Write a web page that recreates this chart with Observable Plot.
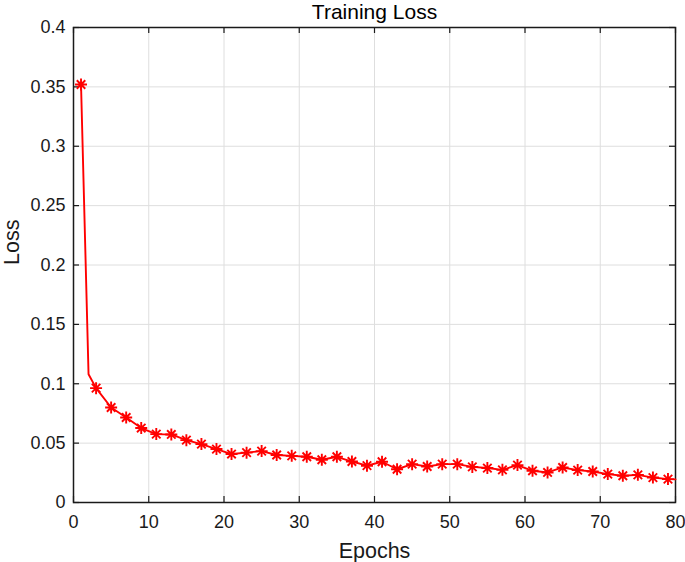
<!DOCTYPE html>
<html>
<head>
<meta charset="utf-8">
<script src="https://cdn.jsdelivr.net/npm/d3@7"></script>
<script src="https://cdn.jsdelivr.net/npm/@observablehq/plot@0.6"></script>
<style>
  html, body { margin: 0; padding: 0; background: #fff; }
</style>
</head>
<body>
<div id="chart"></div>
<script>
// ---- data ----
const title = "Training Loss";
const xLabel = "Epochs";
const yLabel = "Loss";
const xTicks = [0, 10, 20, 30, 40, 50, 60, 70, 80];
const yTicks = [0, 0.05, 0.1, 0.15, 0.2, 0.25, 0.3, 0.35, 0.4];
const yTickLabels = ["0", "0.05", "0.1", "0.15", "0.2", "0.25", "0.3", "0.35", "0.4"];
const markerEpochs = [1, 3, 5, 7, 9, 11, 13, 15, 17, 19, 21, 23, 25, 27, 29, 31, 33, 35, 37, 39,
                      41, 43, 45, 47, 49, 51, 53, 55, 57, 59, 61, 63, 65, 67, 69, 71, 73, 75, 77, 79];
const markerLoss = [0.352, 0.0963, 0.080, 0.0716, 0.0627, 0.0576, 0.0573, 0.0525, 0.0492, 0.045,
                    0.0408, 0.042, 0.0433, 0.040, 0.0393, 0.0385, 0.036, 0.0385, 0.0345, 0.031,
                    0.0343, 0.028, 0.0323, 0.0303, 0.0323, 0.0323, 0.030, 0.029, 0.0275, 0.0315,
                    0.0267, 0.0253, 0.0295, 0.0273, 0.0261, 0.0239, 0.0225, 0.0233, 0.021, 0.0197];
const extraEpochs = [2, 80];
const extraLoss = [0.108, 0.0195];

// ---- tables ----
const markers = markerEpochs.map((e, i) => ({epoch: e, loss: markerLoss[i]}));
const linePts = markers.concat(extraEpochs.map((e, i) => ({epoch: e, loss: extraLoss[i]})))
  .sort((a, b) => a.epoch - b.epoch);

// ---- layout ----
const W = 685, H = 562;
const mL = 73, mR = 10, mT = 27, mB = 60;
const fw = W - mL - mR, fh = H - mT - mB;
const tickLen = 6;
const red = "#ff0000";
const font = "'Liberation Sans', Arial, Helvetica, sans-serif";

// MATLAB-like asterisk: 4 crossing strokes
const asterisk8 = {
  draw(context, size) {
    const r = Math.sqrt(size / Math.PI);
    const d = r * Math.SQRT1_2;
    context.moveTo(-r, 0); context.lineTo(r, 0);
    context.moveTo(0, -r); context.lineTo(0, r);
    context.moveTo(-d, -d); context.lineTo(d, d);
    context.moveTo(-d, d); context.lineTo(d, -d);
  }
};

const chart = Plot.plot({
  width: W,
  height: H,
  marginLeft: mL,
  marginRight: mR,
  marginTop: mT,
  marginBottom: mB,
  style: {fontFamily: font, fontSize: "18px", color: "#1a1a1a", background: "#fff"},
  x: {domain: [0, 80], axis: null},
  y: {domain: [0, 0.4], axis: null},
  marks: [
    Plot.gridX(xTicks, {stroke: "#dedede", strokeOpacity: 1, strokeWidth: 1}),
    Plot.gridY(yTicks, {stroke: "#dedede", strokeOpacity: 1, strokeWidth: 1}),
    Plot.axisX(xTicks, {anchor: "bottom", tickSize: 0, tickPadding: 13, label: null, fill: "#1a1a1a"}),
    Plot.axisY(yTicks, {anchor: "left", tickSize: 0, tickPadding: 8, label: null, fill: "#1a1a1a",
      tickFormat: (d) => yTickLabels[yTicks.indexOf(d)]}),
    // inward ticks on all four sides
    Plot.ruleX(xTicks, {x: d => d, insetTop: fh - tickLen, stroke: "#1a1a1a", strokeWidth: 1.2}),
    Plot.ruleX(xTicks, {x: d => d, insetBottom: fh - tickLen, stroke: "#1a1a1a", strokeWidth: 1.2}),
    Plot.ruleY(yTicks, {y: d => d, insetRight: fw - tickLen, stroke: "#1a1a1a", strokeWidth: 1.2}),
    Plot.ruleY(yTicks, {y: d => d, insetLeft: fw - tickLen, stroke: "#1a1a1a", strokeWidth: 1.2}),
    Plot.frame({stroke: "#1a1a1a", strokeWidth: 1.5}),
    Plot.line(linePts, {x: "epoch", y: "loss", stroke: red, strokeWidth: 1.9}),
    Plot.dot(markers, {x: "epoch", y: "loss", symbol: asterisk8, r: 6, stroke: red, strokeWidth: 1.9, fill: "none"}),
    Plot.text([title], {frameAnchor: "top", lineAnchor: "bottom", dy: -9, fontSize: 21, fill: "#000"}),
    Plot.text([xLabel], {frameAnchor: "bottom", lineAnchor: "bottom", dy: 55, fontSize: 21.5, fill: "#1a1a1a"}),
    Plot.text([yLabel], {frameAnchor: "left", lineAnchor: "bottom", rotate: -90, dx: -55, fontSize: 21.5, fill: "#1a1a1a"})
  ]
});
document.getElementById("chart").appendChild(chart);
</script>
</body>
</html>
